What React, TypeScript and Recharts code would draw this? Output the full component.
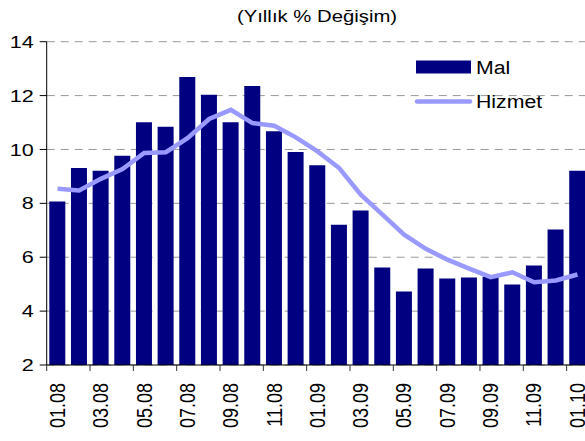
import React from "react";
import { ComposedChart, Bar, Line, XAxis, YAxis, CartesianGrid, Legend } from "recharts";

const months = [
  "01.08", "02.08", "03.08", "04.08", "05.08", "06.08", "07.08", "08.08", "09.08", "10.08", "11.08", "12.08",
  "01.09", "02.09", "03.09", "04.09", "05.09", "06.09", "07.09", "08.09", "09.09", "10.09", "11.09", "12.09",
  "01.10",
];
const malValues = [
  8.07, 9.31, 9.21, 9.77, 11.01, 10.84, 12.69, 12.03, 11.01, 12.36, 10.68, 9.91,
  9.41, 7.21, 7.73, 5.62, 4.73, 5.58, 5.21, 5.25, 5.28, 4.99, 5.69, 7.03,
  9.21,
];
const hizmetValues = [
  8.54, 8.48, 8.91, 9.27, 9.87, 9.9, 10.42, 11.13, 11.47, 10.98, 10.88, 10.45,
  9.93, 9.31, 8.32, 7.58, 6.84, 6.31, 5.91, 5.58, 5.26, 5.44, 5.07, 5.14,
  5.36,
];
const yTicks = [2, 4, 6, 8, 10, 12, 14];
const seriesNames = { mal: "Mal", hizmet: "Hizmet" };
const titleText = "(Yıllık % Değişim)";

const data = months.map((m, i) => ({ month: m, mal: malValues[i], hizmet: hizmetValues[i] }));

const FONT = "'Liberation Sans', Arial, sans-serif";
const STRETCH = 1.27;
const CHART_W = 600;
const CHART_H = 441;
const MARGIN = { top: 41.7, right: 11.7, left: 0, bottom: 0 };
const Y_AXIS_W = 46.7;
const X_AXIS_H = 76;
const PLOT_W = CHART_W - MARGIN.left - MARGIN.right - Y_AXIS_W;
const BAND = PLOT_W / months.length;
const AXIS_Y = CHART_H - MARGIN.bottom - X_AXIS_H;

const XTick = (props: any) => {
  const { x, payload } = props;
  const bx = x - BAND / 2;
  return (
    <g>
      <line x1={bx} x2={bx} y1={AXIS_Y} y2={AXIS_Y + 6} stroke="#333" strokeWidth={1} />
      <text
        transform={`translate(${x - 1},${AXIS_Y + 18}) scale(${STRETCH},1) rotate(-90)`}
        textAnchor="end"
        dominantBaseline="central"
        fontSize={18}
        fontFamily={FONT}
        fill="#000"
      >
        {payload.value}
      </text>
    </g>
  );
};

const YTick = (props: any) => {
  const { x, y, payload } = props;
  return (
    <text
      transform={`translate(${x},${y}) scale(${STRETCH},1)`}
      textAnchor="end"
      dominantBaseline="central"
      fontSize={17}
      fontFamily={FONT}
      fill="#000"
    >
      {payload.value}
    </text>
  );
};

const LegendContent = (props: any) => {
  const payload = [...(props.payload || [])].sort((a: any, b: any) =>
    (a.type === "line" ? 1 : 0) - (b.type === "line" ? 1 : 0)
  );
  return (
    <svg width={160} height={70} style={{ display: "block" }}>
      {payload.map((p: any, i: number) => {
        const cy = 17 + i * 34.5;
        return (
          <g key={i}>
            {p.type === "line" ? (
              <line x1={7} x2={60} y1={cy} y2={cy} stroke={p.color} strokeWidth={4.5} strokeLinecap="round" />
            ) : (
              <rect x={6} y={cy - 6.5} width={55} height={13} fill={p.color} />
            )}
            <text
              transform={`translate(66,${cy}) scale(1.12,1)`}
              dominantBaseline="central"
              fontSize={19}
              fontFamily={FONT}
              fill="#000"
            >
              {p.value}
            </text>
          </g>
        );
      })}
    </svg>
  );
};

export default function App() {
  return (
    <div style={{ position: "absolute", left: 0, top: 0, width: 585, height: 441, overflow: "hidden", background: "#fff" }}>
      <ComposedChart width={CHART_W} height={CHART_H} data={data} margin={MARGIN} barCategoryGap="12%">
        <CartesianGrid vertical={false} stroke="#999" strokeDasharray="8 6" />
        <XAxis
          dataKey="month"
          interval={1}
          height={X_AXIS_H}
          axisLine={{ stroke: "#000" }}
          tickLine={false}
          tick={<XTick />}
        />
        <YAxis
          domain={[2, 14]}
          ticks={yTicks}
          width={Y_AXIS_W}
          axisLine={{ stroke: "#000" }}
          tickLine={{ stroke: "#000" }}
          tickSize={7}
          tickMargin={6}
          tick={<YTick />}
          allowDataOverflow
        />
        <Legend
          verticalAlign="middle"
          align="center"
          layout="vertical"
          wrapperStyle={{ position: "absolute", left: 410, top: 50, width: 160, height: 70 }}
          content={<LegendContent />}
        />
        <Bar dataKey="mal" name={seriesNames.mal} fill="#000080" isAnimationActive={false} legendType="rect" />
        <Line
          dataKey="hizmet"
          name={seriesNames.hizmet}
          stroke="#9999FF"
          strokeWidth={4.5}
          dot={false}
          type="linear"
          isAnimationActive={false}
          legendType="line"
        />
      </ComposedChart>
      <svg width={585} height={441} style={{ position: "absolute", left: 0, top: 0, pointerEvents: "none" }}>
        <text
          transform={`translate(317,22) scale(${STRETCH},1)`}
          textAnchor="middle"
          fontSize={16}
          fontFamily={FONT}
          fill="#000"
        >
          {titleText}
        </text>
      </svg>
    </div>
  );
}
